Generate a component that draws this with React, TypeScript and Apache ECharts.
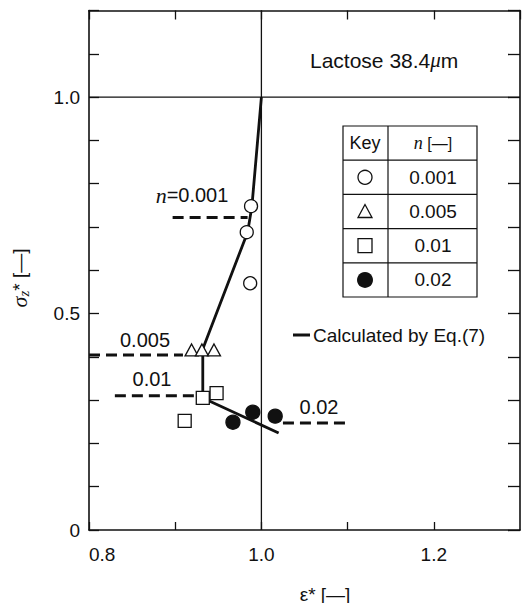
import React, { useEffect, useRef } from 'react';
import * as echarts from 'echarts';

// ---- data ----
const xTickValues = [0.8, 1.0, 1.2];
const xTickLabels = ['0.8', '1.0', '1.2'];
const yTickValues = [0, 0.5, 1.0];
const yTickLabels = ['0', '0.5', '1.0'];

const circleData = [[0.988, 0.748], [0.983, 0.688], [0.987, 0.57]];
const triangleData = [[0.919, 0.416], [0.931, 0.416], [0.945, 0.416]];
const squareData = [[0.932, 0.305], [0.948, 0.316], [0.911, 0.252]];
const filledData = [[0.967, 0.249], [0.99, 0.272], [1.016, 0.263]];
const calcLine = [[1.0, 1.0], [0.989, 0.748], [0.984, 0.688], [0.932, 0.418], [0.932, 0.305], [1.02, 0.224]];
const dash001 = [[0.897, 0.722], [0.984, 0.722]];
const dash005 = [[0.8, 0.404], [0.909, 0.404]];
const dash01 = [[0.83, 0.31], [0.925, 0.31]];
const dash02 = [[1.025, 0.247], [1.098, 0.247]];
const refV = [[1.0, 0], [1.0, 1.2]];
const refH = [[0.8, 1.0], [1.3, 1.0]];
const legendKeys = ['circle', 'triangle', 'square', 'filled'];
const legendValues = ['0.001', '0.005', '0.01', '0.02'];

const FONT = '"Liberation Sans", Arial, Helvetica, sans-serif';
const SERIF = '"Liberation Serif", "Times New Roman", serif';
const INK = '#111';

function labelFor(values: number[], labels: string[]) {
  return (v: number) => {
    const i = values.findIndex((t) => Math.abs(t - v) < 1e-6);
    return i >= 0 ? labels[i] : '';
  };
}

function rs(family: string, size: number, italic = false, extra: any = {}) {
  return { fontFamily: family, fontSize: size, fontStyle: italic ? 'italic' : 'normal', fill: INK, color: INK, ...extra };
}

function legendGraphic() {
  const L = 343, R = 477, D = 388, T = 126, H = 34.2;
  const els: any[] = [];
  const ls = { stroke: INK, lineWidth: 1.2 };
  els.push({ type: 'rect', shape: { x: L, y: T, width: R - L, height: H * 5 }, style: { fill: '#fff', stroke: INK, lineWidth: 1.2 } });
  els.push({ type: 'line', shape: { x1: D, y1: T, x2: D, y2: T + H * 5 }, style: ls });
  for (let i = 1; i < 5; i++) {
    els.push({ type: 'line', shape: { x1: L, y1: T + H * i, x2: R, y2: T + H * i }, style: ls });
  }
  const cx = 365, vx = 433;
  els.push({ type: 'text', x: cx, y: T + H / 2, style: { text: 'Key', font: `18px ${FONT}`, fill: INK, align: 'center', verticalAlign: 'middle' } });
  els.push({
    type: 'text', x: vx, y: T + H / 2,
    style: {
      text: '{n|n}{b| [—]}', align: 'center', verticalAlign: 'middle', fill: INK,
      rich: { n: rs(SERIF, 18, true), b: rs(FONT, 16) },
    },
  });
  legendKeys.forEach((k, i) => {
    const cy = T + H * (i + 1) + H / 2;
    if (k === 'circle') els.push({ type: 'circle', shape: { cx, cy, r: 7 }, style: { fill: '#fff', stroke: INK, lineWidth: 1.3 } });
    if (k === 'triangle') els.push({ type: 'polygon', shape: { points: [[cx, cy - 7], [cx - 7, cy + 6], [cx + 7, cy + 6]] }, style: { fill: '#fff', stroke: INK, lineWidth: 1.3 } });
    if (k === 'square') els.push({ type: 'rect', shape: { x: cx - 7, y: cy - 7, width: 14, height: 14 }, style: { fill: '#fff', stroke: INK, lineWidth: 1.3 } });
    if (k === 'filled') els.push({ type: 'circle', shape: { cx, cy, r: 8 }, style: { fill: INK } });
    els.push({ type: 'text', x: vx, y: cy, style: { text: legendValues[i], font: `19px ${FONT}`, fill: INK, align: 'center', verticalAlign: 'middle' } });
  });
  return { type: 'group', z: 100, children: els };
}

function txt(text: string, x: number, y: number, align = 'center', size = 19) {
  return { type: 'text', x, y, z: 100, style: { text, font: `${size}px ${FONT}`, fill: INK, align, verticalAlign: 'middle' } };
}

export default function App() {
  const ref = useRef<HTMLDivElement>(null);
  useEffect(() => {
    if (!ref.current) return;
    const chart = echarts.init(ref.current, undefined, { renderer: 'svg' });
    const axisLine = { show: true, onZero: false, lineStyle: { color: INK, width: 1.6 } };
    const xBase = { type: 'value', min: 0.8, max: 1.3, interval: 0.1, splitLine: { show: false }, axisLine };
    const yBase = { type: 'value', min: 0, max: 1.2, interval: 0.1, splitLine: { show: false }, axisLine };
    const dashStyle = { color: INK, width: 3, type: [11, 6] as any };
    const lineSeries = (data: number[][], lineStyle: any, z = 2) => ({
      type: 'line', data, symbol: 'none', showSymbol: false, lineStyle, z, silent: true, animation: false,
    });
    const scatter = (data: number[][], symbol: string, size: any, fill: string) => ({
      type: 'scatter', data, symbol, symbolSize: size, z: 5,
      itemStyle: { color: fill, borderColor: INK, borderWidth: 1.3, opacity: 1 },
    });
    chart.setOption({
      animation: false,
      backgroundColor: '#fff',
      grid: { left: 89, top: 10.5, width: 431, height: 519.5, outerBoundsMode: 'none' } as any,
      xAxis: [
        {
          ...xBase, position: 'bottom',
          axisTick: { show: true, inside: true, length: 8, lineStyle: { color: INK, width: 1.3 } },
          axisLabel: { formatter: labelFor(xTickValues, xTickLabels), margin: 15, fontSize: 19, color: INK, fontFamily: FONT, alignMinLabel: 'left', showMaxLabel: false },
        },
        {
          ...xBase, position: 'top',
          axisTick: { show: true, inside: true, length: 9, lineStyle: { color: INK, width: 1.3 } },
          axisLabel: { show: false },
        },
      ],
      yAxis: [
        {
          ...yBase, position: 'left',
          axisTick: { show: true, inside: true, length: 10, lineStyle: { color: INK, width: 1.3 } },
          axisLabel: { formatter: labelFor(yTickValues, yTickLabels), margin: 9, fontSize: 19, color: INK, fontFamily: FONT },
        },
        {
          ...yBase, position: 'right',
          axisTick: { show: true, inside: true, length: 12, lineStyle: { color: INK, width: 1.3 } },
          axisLabel: { show: false },
        },
      ],
      series: [
        lineSeries(refV, { color: INK, width: 1.3 }, 1),
        lineSeries(refH, { color: INK, width: 1.3 }, 1),
        lineSeries(dash001, dashStyle),
        lineSeries(dash005, dashStyle),
        lineSeries(dash01, dashStyle),
        lineSeries(dash02, dashStyle),
        lineSeries(calcLine, { color: INK, width: 2.8 }, 3),
        scatter(circleData, 'circle', 13, '#fff'),
        scatter(triangleData, 'triangle', [13, 12], '#fff'),
        scatter(squareData, 'rect', 13, '#fff'),
        scatter(filledData, 'circle', 14, INK),
      ],
      graphic: [
        legendGraphic(),
        {
          type: 'text', x: 310, y: 60, z: 100,
          style: {
            text: '{a|Lactose 38.4}{m|μ}{a|m}', align: 'left', verticalAlign: 'middle', fill: INK,
            rich: { a: rs(FONT, 21), m: rs(SERIF, 21, true) },
          },
        },
        {
          type: 'text', x: 192, y: 195, z: 100,
          style: {
            text: '{n|n}{a|=0.001}', align: 'center', verticalAlign: 'middle', fill: INK,
            rich: { n: rs(SERIF, 22, true), a: rs(FONT, 20) },
          },
        },
        txt('0.005', 145, 340, 'center', 20),
        txt('0.01', 152, 379, 'center', 20),
        txt('0.02', 319, 407, 'center', 20),
        { type: 'line', z: 100, shape: { x1: 293, y1: 335, x2: 310, y2: 335 }, style: { stroke: INK, lineWidth: 3 } },
        txt('Calculated by Eq.(7)', 313, 335, 'left', 19),
        {
          type: 'text', x: 19, y: 278, rotation: Math.PI / 2, z: 100,
          style: {
            text: '{s|σ}{z|z}{a|* [—]}', align: 'center', verticalAlign: 'middle', fill: INK,
            rich: {
              s: rs(SERIF, 22, true),
              z: rs(SERIF, 15, true, { padding: [9, 0, 0, 0] }),
              a: rs(FONT, 19),
            },
          },
        },
        txt('ε* [—]', 325, 594, 'center', 19),
      ],
    });
    return () => chart.dispose();
  }, []);
  return <div ref={ref} style={{ position: 'fixed', left: 0, top: 0, width: 522, height: 603, background: '#fff' }} />;
}
